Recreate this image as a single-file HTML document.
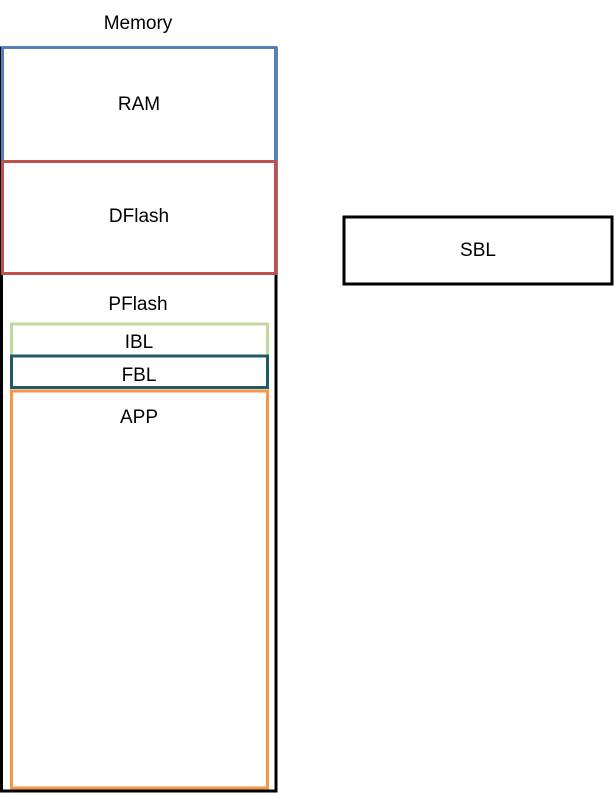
<!DOCTYPE html>
<html><head><style>body{margin:0;background:#fff}svg{display:block}text{font-family:"Liberation Sans",sans-serif;font-size:19px;fill:#000}</style></head>
<body>
<svg width="616" height="794" viewBox="0 0 616 794">
<rect x="0" y="0" width="616" height="794" fill="#fff"/>
<rect x="1.5" y="48" width="274.5" height="743" fill="none" stroke="#000" stroke-width="3"/>
<rect x="2.5" y="47.5" width="273" height="114" fill="#fff" stroke="#4f81bd" stroke-width="3"/>
<rect x="2.5" y="161.5" width="273" height="112" fill="#fff" stroke="#c0504d" stroke-width="3"/>
<rect x="11.5" y="324" width="256" height="32" fill="none" stroke="#c3d69b" stroke-width="3"/>
<rect x="11.5" y="356" width="256" height="31.5" fill="#fff" stroke="#215968" stroke-width="3"/>
<rect x="11.5" y="391" width="256" height="397" fill="none" stroke="#f79646" stroke-width="3"/>
<rect x="344" y="217" width="268" height="67" fill="none" stroke="#000" stroke-width="3"/>
<g text-anchor="middle">
<text x="138" y="29">Memory</text>
<text x="139" y="110">RAM</text>
<text x="139" y="222">DFlash</text>
<text x="138" y="310">PFlash</text>
<text x="139" y="348">IBL</text>
<text x="139" y="381">FBL</text>
<text x="139" y="423">APP</text>
<text x="478" y="256">SBL</text>
</g>
</svg>
</body></html>
